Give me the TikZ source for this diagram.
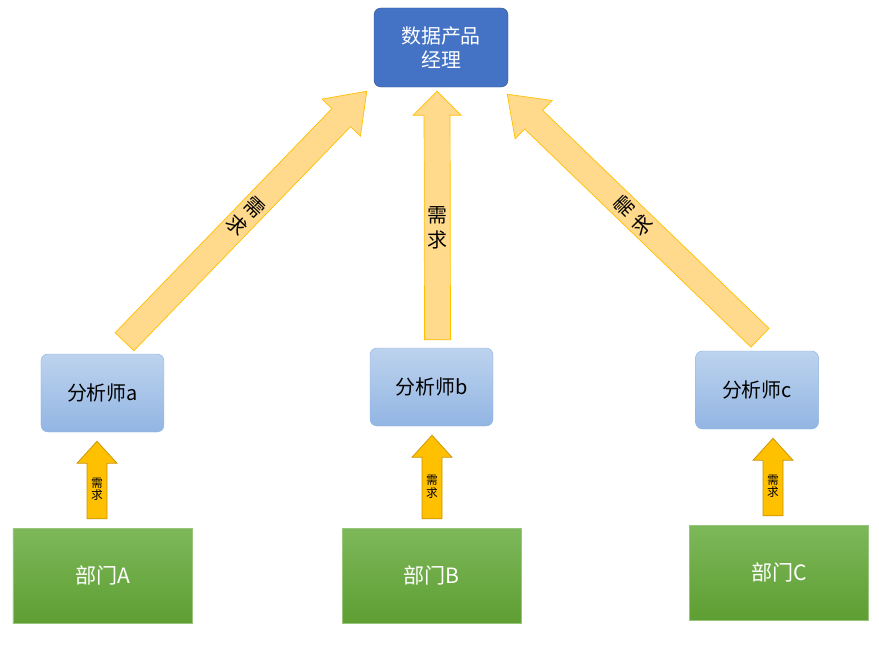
\documentclass[tikz,border=0pt]{standalone}
\usepackage{fontspec}
\newfontfamily\cjk{Noto Sans CJK SC}
\definecolor{pmblue}{HTML}{4472C4}
\definecolor{pmborder}{HTML}{2F528F}
\definecolor{anatop}{HTML}{BDD3EE}
\definecolor{anabot}{HTML}{92B5E3}
\definecolor{anaborder}{HTML}{8EB4E3}
\definecolor{depttop}{HTML}{7DB85A}
\definecolor{deptbot}{HTML}{5E9E32}
\definecolor{bigfill}{HTML}{FFD98C}
\definecolor{bigborder}{HTML}{FFC000}
\definecolor{smallfill}{HTML}{FFC000}
\definecolor{smallborder}{HTML}{C89200}
\usetikzlibrary{positioning, calc, shapes.misc}
% arrow outline from #1 to #2: shaft half width, head half width, head length, style
\newcommand{\flowarrow}[6]{%
  \coordinate (fa-h) at ($(#2)!#5!(#1)$);
  \draw[#6] ($(#1)!#3!90:(#2)$) -- ($(fa-h)!#3!-90:(#1)$) -- ($(fa-h)!#4!-90:(#1)$)
    -- (#2) -- ($(fa-h)!#4!90:(#1)$) -- ($(fa-h)!#3!90:(#1)$) -- ($(#1)!#3!-90:(#2)$) -- cycle;}
\begin{document}
\begin{tikzpicture}[x=0.03cm, y=-0.03cm, font=\cjk,
  pm/.style = {rectangle, rounded corners=6pt, draw = pmborder, fill = pmblue, text = white,
    minimum width = 4.02cm, minimum height = 2.37cm, align = center, font = \cjk\fontsize{17}{20}\selectfont},
  analyst/.style = {rectangle, rounded corners=6pt, draw = anaborder, top color = anatop, bottom color = anabot,
    minimum width = 3.69cm, minimum height = 2.34cm, font = \cjk\fontsize{17}{20}\selectfont},
  dept/.style = {rectangle, draw = depttop!80!white, top color = depttop, bottom color = deptbot, text = white,
    minimum width = 5.37cm, minimum height = 2.85cm, font = \cjk\fontsize{18}{20}\selectfont},
  bigarrow/.style = {draw = bigborder, fill = bigfill, line width = 0.6pt},
  smallarrow/.style = {draw = smallborder, fill = smallfill, line width = 0.6pt},
  biglabel/.style = {align = center, font = \cjk\fontsize{17}{22}\selectfont},
  smalllabel/.style = {align = center, font = \cjk\fontsize{10}{11}\selectfont}]
\useasboundingbox (0,0) rectangle (879,649);
\node[pm] (pm) at (441,47.5) {数据产品\\经理};
\node[analyst] (anaA) at (102.5,393) {分析师a};
\node[analyst] (anaB) at (431.5,387) {分析师b};
\node[analyst] (anaC) at (757,390) {分析师c};
\node[dept] (deptA) at (102.5,575.5) {部门A};
\node[dept] (deptB) at (431.5,575.5) {部门B};
\node[dept] (deptC) at (779,572.5) {部门C};
% big arrows to the product manager
\coordinate (sA) at ($(anaA.north)+(22,-12)$);
\coordinate (eA) at ($(pm.south west)+(-7,4)$);
\coordinate (sB) at ($(anaB.north)+(6,-8)$);
\coordinate (eB) at ($(pm.south)+(-4,4)$);
\coordinate (sC) at ($(anaC.north)+(3,-13)$);
\coordinate (eC) at ($(pm.south east)+(-1,7)$);
\flowarrow{sA}{eA}{0.39cm}{0.8cm}{1.1cm}{bigarrow}
\flowarrow{sB}{eB}{0.39cm}{0.72cm}{0.72cm}{bigarrow}
\flowarrow{sC}{eC}{0.39cm}{0.8cm}{1.1cm}{bigarrow}
\node[biglabel, rotate=-44] (labA) at ($(sA)!0.5!(eA)$) {需\\求};
\node[biglabel] (labB) at ($(sB)!0.45!(eB)$) {需\\求};
\node[biglabel, rotate=45] (labC) at ($(sC)!0.5!(eC)$) {需\\求};
% small arrows from the departments
\foreach \d/\a/\dx in {deptA/anaA/-5.5, deptB/anaB/0.5, deptC/anaC/-6} {
  \coordinate (s-\d) at ($(\d.north)+(\dx,-9)$);
  \coordinate (e-\d) at ($(\a.south)+(0,9)$);
  \coordinate (e-\d) at (s-\d |- e-\d);
  \flowarrow{s-\d}{e-\d}{0.3cm}{0.6cm}{0.66cm}{smallarrow}
  \node[smalllabel] (lab-\d) at ($(s-\d)!0.38!(e-\d)$) {需\\求};
}
\end{tikzpicture}
\end{document}
